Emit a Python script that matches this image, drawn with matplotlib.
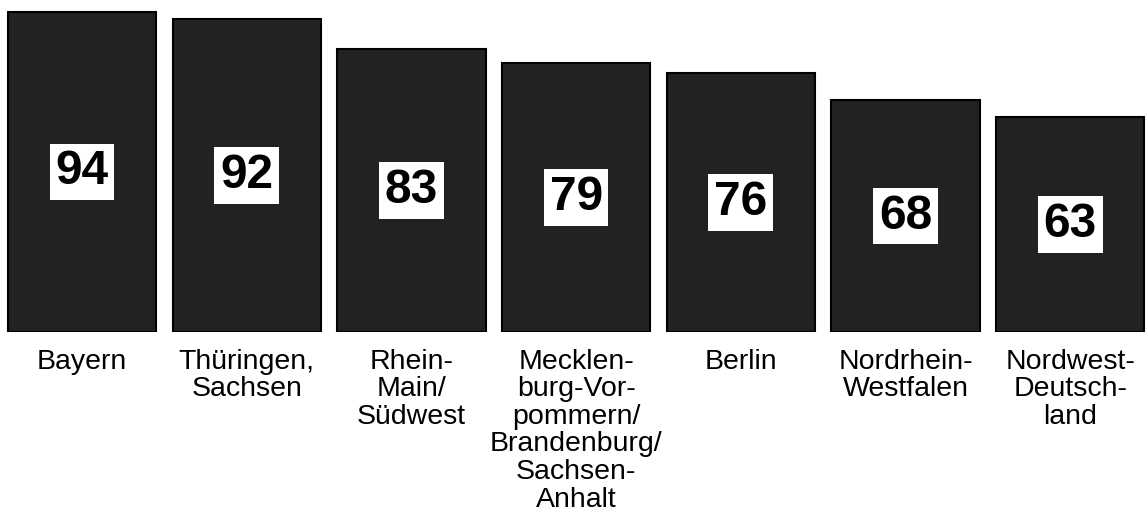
import matplotlib.pyplot as plt

regions = ['Bayern', 'Thüringen,\nSachsen', 'Rhein-\nMain/\nSüdwest',
           'Mecklen-\nburg-Vor-\npommern/\nBrandenburg/\nSachsen-\nAnhalt',
           'Berlin', 'Nordrhein-\nWestfalen', 'Nordwest-\nDeutsch-\nland']
values = [94, 92, 83, 79, 76, 68, 63]

plt.rcParams['font.family'] = ['Liberation Sans', 'DejaVu Sans']

fig = plt.figure(figsize=(11.46, 5.17), dpi=100)
ax = fig.add_axes([0, 185 / 517, 1, 332 / 517])

x = range(len(values))
ax.bar(x, values, width=0.9, color='#222222', edgecolor='black', linewidth=1.5)

for i, v in zip(x, values):
    ax.text(i, v / 2, str(v), ha='center', va='center', fontsize=34.5,
            fontweight='bold', color='black',
            bbox=dict(boxstyle='square,pad=0.12', facecolor='white', edgecolor='none'))

ax.set_xlim(-0.498, 6.46)
ax.set_ylim(0, 97.5)
ax.set_xticks(list(x))
ax.set_xticklabels(regions, fontsize=20.5, linespacing=1.08)
ax.tick_params(axis='x', length=0, pad=12)
ax.set_yticks([])
for s in ax.spines.values():
    s.set_visible(False)

fig.savefig('out.png', dpi=100)
